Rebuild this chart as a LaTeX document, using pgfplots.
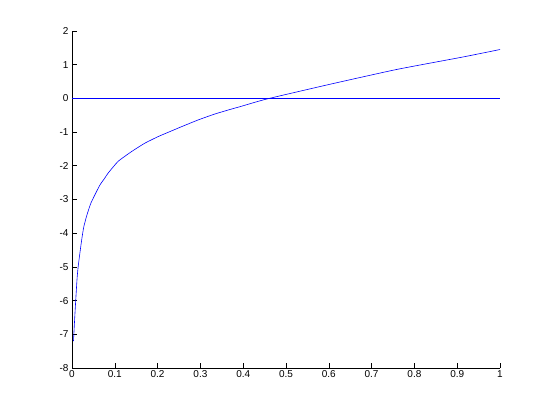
\documentclass[border=0pt]{standalone}
\usepackage{pgfplots}
\pgfplotsset{compat=1.18}
\usepackage{fontspec}
\setmainfont{Liberation Sans}
\begin{document}
\begin{tikzpicture}[x=1pt,y=1pt]
\path (0,0) rectangle (553,415);
\begin{axis}[
  at={(72pt,47pt)}, anchor=south west,
  scale only axis, width=428pt, height=337pt,
  xmin=0, xmax=1, ymin=-8, ymax=2,
  axis lines*=left,
  tick align=inside,
  major tick length=5pt,
  axis line style={line width=0.6pt},
  tick style={line width=0.6pt, black},
  xtick={0,0.1,0.2,0.3,0.4,0.5,0.6,0.7,0.8,0.9,1},
  xticklabels={0,0.1,0.2,0.3,0.4,0.5,0.6,0.7,0.8,0.9,1},
  ytick={-8,-7,-6,-5,-4,-3,-2,-1,0,1,2},
  yticklabels={-8,-7,-6,-5,-4,-3,-2,-1,0,1,2},
  ticklabel style={font=\fontsize{10}{12}\selectfont},
  xticklabel style={yshift=1pt},
  clip=false,
]
\addplot[blue, line width=0.6pt] coordinates {(0,0) (1,0)};
\addplot[blue, line width=0.6pt, smooth, tension=0.3] coordinates {
(0.0035,-7.20) (0.0070,-6.36) (0.0117,-5.37) (0.0141,-5.03)
(0.0173,-4.70) (0.0227,-4.19) (0.0274,-3.82) (0.0344,-3.48) (0.0444,-3.10)
(0.0648,-2.58) (0.0758,-2.38) (0.0842,-2.22) (0.1076,-1.87) (0.1389,-1.58)
(0.170,-1.33) (0.201,-1.135) (0.2284,-0.987) (0.2558,-0.84) (0.2946,-0.64)
(0.3336,-0.464) (0.3727,-0.316) (0.392,-0.248) (0.4545,-0.02)
(0.603,0.42) (0.758,0.857) (0.914,1.23) (1.0,1.45)};
\end{axis}
\end{tikzpicture}
\end{document}
